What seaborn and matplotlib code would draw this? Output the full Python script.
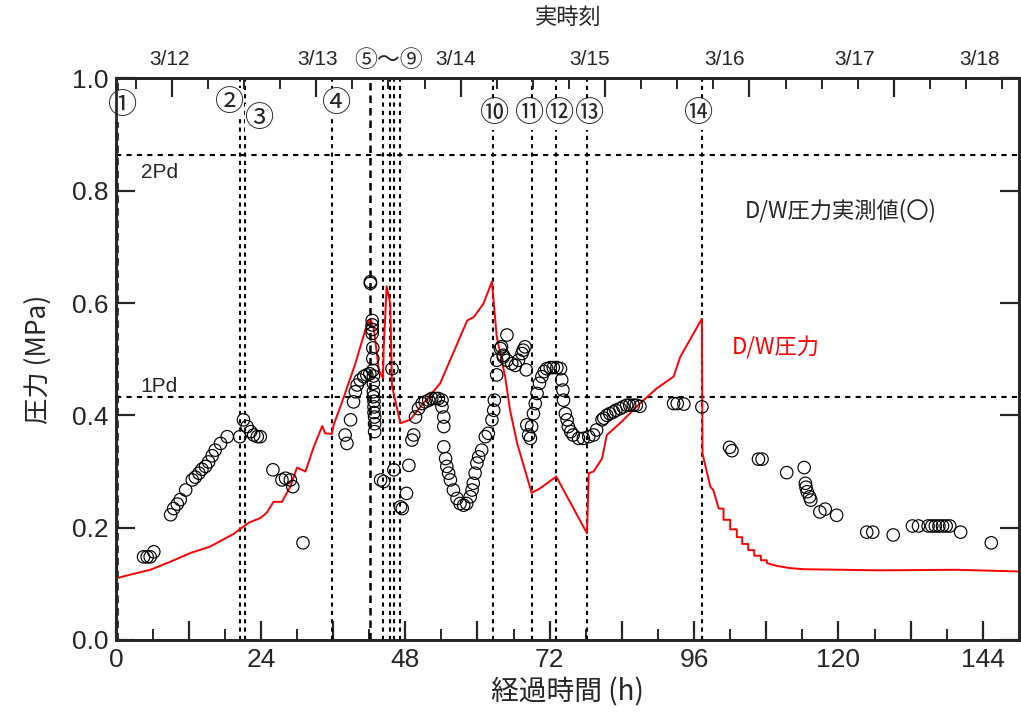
import matplotlib
matplotlib.use('Agg')
import matplotlib.pyplot as plt
import pandas as pd
import seaborn as sns
from matplotlib.ticker import FixedLocator, MultipleLocator, FuncFormatter

# calculated D/W pressure (red line)
calc_hours = [0, 2.2, 5.6, 8.9, 12.3, 15.5, 19.5, 20.6, 22.0, 23.9, 25.0, 26.1, 27.5, 28.9, 30.0,
              31.4, 32.8, 34.2, 34.7, 35.8, 36.1, 37.8, 39.7, 41.6, 42.2, 42.8, 43.6, 44.3, 44.4,
              44.9, 45.5, 45.8, 47.2, 48.8, 50.5, 53.8, 58.3, 59.4, 61.0, 62.4, 63.2, 64.6, 65.4,
              66.6, 69.0, 70.4, 73.1, 74.0, 78.2, 78.5, 79.3, 80.7, 81.5, 83.7, 87.0, 89.8, 92.6,
              93.7, 97.3, 97.4, 98.7, 99.2, 100.1, 100.9, 100.9, 102.0, 102.0, 103.1, 103.1,
              104.0, 104.0, 105.0, 105.0, 106.0, 106.0, 107.1, 107.1, 108.1, 108.1, 109.7, 111.9,
              114.2, 126.9, 139.6, 150.0]
calc_mpa = [0.110, 0.116, 0.125, 0.139, 0.155, 0.166, 0.189, 0.198, 0.209, 0.217, 0.227, 0.246,
            0.246, 0.273, 0.307, 0.300, 0.344, 0.381, 0.368, 0.367, 0.383, 0.433, 0.492, 0.561,
            0.572, 0.552, 0.481, 0.466, 0.516, 0.630, 0.599, 0.451, 0.386, 0.392, 0.415, 0.457,
            0.569, 0.575, 0.599, 0.638, 0.540, 0.469, 0.410, 0.350, 0.262, 0.270, 0.291, 0.273,
            0.190, 0.297, 0.300, 0.323, 0.365, 0.386, 0.421, 0.448, 0.469, 0.504, 0.572, 0.332,
            0.273, 0.267, 0.234, 0.234, 0.214, 0.214, 0.197, 0.197, 0.183, 0.183, 0.171, 0.171,
            0.160, 0.160, 0.150, 0.150, 0.142, 0.142, 0.137, 0.132, 0.128, 0.126, 0.124, 0.125,
            0.122]

# measured D/W pressure (circles)
meas_hours = [4.5, 5.1, 5.6, 6.2,
              9.0, 9.5, 10.1, 10.6, 11.5, 12.6, 13.1, 13.7, 14.2, 14.8, 15.3, 15.9, 16.4, 17.3,
              18.4, 20.5, 21.1, 21.7, 22.3, 22.8, 23.4, 23.9,
              26.0, 27.5, 28.1, 28.9, 29.3, 31.0,
              38.0, 38.3, 38.9, 39.4, 39.7, 40.0, 40.5, 41.1, 41.6, 42.1,
              42.2, 42.2, 42.5, 42.5, 42.5, 42.5, 42.6, 42.6, 42.6, 42.7, 42.7, 42.7, 42.7, 42.8,
              42.8, 42.8, 42.9, 42.9, 42.9,
              43.9, 44.4, 45.8, 46.1, 47.2, 47.5, 48.2, 48.6, 49.1, 49.4, 49.7, 50.2, 50.8, 51.3,
              51.9, 52.4, 53.0, 53.5, 54.1, 54.1, 54.4, 54.4, 54.4, 54.7, 54.9, 55.2, 55.5, 56.0,
              56.6, 57.1, 57.7, 58.2, 58.8, 59.1, 59.3, 59.6, 59.9, 60.2, 60.7, 61.3, 61.8, 62.4,
              62.7, 62.8, 63.2, 63.2, 63.8, 64.0, 64.3, 64.3, 64.9, 64.9, 65.7, 66.3, 66.8, 67.4,
              67.6, 67.9, 68.1,
              68.2, 68.5, 68.8, 69.0, 69.3, 69.6, 69.9, 70.3, 70.7, 71.1, 71.5, 72.1, 72.6, 73.2,
              73.8, 74.0, 74.2, 74.3, 74.6, 74.9, 75.1, 75.5, 75.9, 76.8, 77.6, 78.5, 79.3, 79.8,
              80.7, 81.0, 81.5, 82.0, 82.6, 83.0, 83.7, 84.2, 84.8, 85.3, 85.9, 86.4, 87.0, 92.6,
              93.2, 94.3, 97.3,
              101.9, 102.3, 106.7, 107.3, 111.4, 114.3, 114.5, 114.6, 114.8, 115.2, 115.4, 116.9,
              117.8, 119.7, 124.7, 125.7, 129.1, 132.3, 133.3, 134.9, 135.5, 136.1, 136.7, 137.3,
              137.9, 138.5, 140.3, 145.4]
meas_mpa = [0.148, 0.148, 0.148, 0.157,
            0.223, 0.234, 0.242, 0.250, 0.267, 0.285, 0.290, 0.297, 0.304, 0.309, 0.317, 0.328,
            0.338, 0.350, 0.362, 0.362, 0.392, 0.380, 0.371, 0.365, 0.362, 0.362,
            0.303, 0.285, 0.288, 0.285, 0.273, 0.173,
            0.365, 0.350, 0.392, 0.424, 0.442, 0.454, 0.463, 0.469, 0.472, 0.474,
            0.638, 0.635, 0.569, 0.561, 0.553, 0.546, 0.520, 0.501, 0.480, 0.470, 0.457, 0.442,
            0.433, 0.425, 0.415, 0.405, 0.397, 0.385, 0.371,
            0.285, 0.282, 0.483, 0.303, 0.237, 0.234, 0.261, 0.311, 0.356, 0.365, 0.397, 0.412,
            0.421, 0.424, 0.427, 0.430, 0.430, 0.430, 0.427, 0.415, 0.397, 0.380, 0.344, 0.323,
            0.309, 0.297, 0.285, 0.267, 0.252, 0.243, 0.240, 0.243, 0.255, 0.267, 0.279, 0.297,
            0.315, 0.326, 0.338, 0.362, 0.368, 0.392, 0.409, 0.427, 0.472, 0.498, 0.519, 0.522,
            0.507, 0.504, 0.543, 0.498, 0.492, 0.489, 0.498, 0.510, 0.516, 0.522, 0.481,
            0.383, 0.365, 0.359, 0.380, 0.403, 0.421, 0.439, 0.457, 0.469, 0.478, 0.483, 0.485,
            0.485, 0.485, 0.483, 0.463, 0.445, 0.427, 0.403, 0.392, 0.380, 0.371, 0.365, 0.359,
            0.359, 0.362, 0.365, 0.374, 0.392, 0.395, 0.400, 0.403, 0.406, 0.409, 0.412, 0.415,
            0.418, 0.418, 0.418, 0.418, 0.416, 0.421, 0.421, 0.420, 0.415,
            0.343, 0.337, 0.322, 0.322, 0.298, 0.307, 0.279, 0.272, 0.264, 0.255, 0.249, 0.228,
            0.233, 0.222, 0.192, 0.192, 0.187, 0.203, 0.203, 0.203, 0.203, 0.203, 0.203, 0.203,
            0.203, 0.203, 0.192, 0.173]

# event times (vertical lines) and labels
event_hours = [0.1, 20.6, 21.3, 35.8, 42.2, 44.3, 45.4, 46.1, 47.2, 62.6, 69.0, 73.0, 78.2, 97.4]
event_labels = ['①', '②', '③', '④', '⑤〜⑨', '⑩', '⑪', '⑫', '⑬', '⑭']
pd_levels = [0.432, 0.864]
pd_labels = ['1Pd', '2Pd']
date_labels = ['3/12', '3/13', '3/14', '3/15', '3/16', '3/17', '3/18']
midnight_hours = [9.2, 33.2, 57.2, 81.2, 105.2, 129.2]

calc_df = pd.DataFrame({'hour': calc_hours, 'mpa': calc_mpa})
meas_df = pd.DataFrame({'hour': meas_hours, 'mpa': meas_mpa})

sns.set_theme(style='ticks')
plt.rcParams['font.family'] = ['Liberation Sans', 'Noto Sans CJK JP', 'DejaVu Sans']
cjk = ['Noto Sans CJK JP', 'DejaVu Sans']

fig = plt.figure(figsize=(10.21, 7.19), dpi=100)
ax = fig.add_axes([0.1141, 0.1099, 0.8839, 0.7811])

# event lines
for i, h in enumerate(event_hours):
    if i in (0, 4):
        ax.axvline(h, color='black', lw=1.8, ls=(0, (3, 2)), zorder=1)
    else:
        ax.axvline(h, color='black', lw=1.5, ls=(0, (2, 2)), zorder=1)
for lvl in pd_levels:
    ax.axhline(lvl, color='black', lw=1.5, ls=(0, (2.5, 2.5)), zorder=1)

sns.lineplot(data=calc_df, x='hour', y='mpa', sort=False, estimator=None,
             color='red', lw=1.4, ax=ax, zorder=3)
sns.scatterplot(data=meas_df, x='hour', y='mpa', marker='o', s=80,
                facecolor='none', edgecolor='black', linewidth=0.85, ax=ax, zorder=4)

ax.set_xlim(0, 150)
ax.set_ylim(0, 1.0)

# bottom / left axes
ax.xaxis.set_major_locator(MultipleLocator(12))
ax.xaxis.set_minor_locator(MultipleLocator(6))
ax.xaxis.set_major_formatter(FuncFormatter(lambda v, p: f'{v:.0f}' if v % 24 == 0 else ''))
ax.yaxis.set_major_locator(MultipleLocator(0.2))
ax.yaxis.set_major_formatter(FuncFormatter(lambda v, p: f'{v:.1f}'))
ax.tick_params(axis='both', which='major', direction='in', length=14, width=1.6,
               labelsize=19, top=False, right=True, pad=6)
ax.tick_params(axis='x', which='minor', direction='in', length=8, width=1.4, top=False)
for s in ax.spines.values():
    s.set_linewidth(2.0)

ax.set_xlabel('経過時間 (h)', fontsize=20, family=cjk, labelpad=4)
ax.set_ylabel('圧力 (MPa)', fontsize=19, family=cjk, labelpad=14)

# top axis: real time
ax2 = ax.twiny()
ax2.set_xlim(0, 150)
ax2.xaxis.set_major_locator(FixedLocator(midnight_hours))
ax2.xaxis.set_minor_locator(FixedLocator([3.2 + 6 * k for k in range(25)]))
ax2.set_xticklabels([])
ax2.tick_params(axis='x', which='major', direction='in', length=14, width=1.6)
ax2.tick_params(axis='x', which='minor', direction='in', length=8, width=1.4)
ax2.set_xlabel('実時刻', fontsize=16, family=cjk, labelpad=36)
for s in ax2.spines.values():
    s.set_linewidth(2.0)

date_x = [8.8, 33.4, 56.3, 78.6, 101.0, 122.7, 143.4]
for d, x in zip(date_labels, date_x):
    ax.text(x, 1.033, d, fontsize=15, ha='center', va='center', clip_on=False)

label_x = [1.0, 18.8, 23.8, 36.6, 45.3, 62.8, 68.6, 73.6, 78.7, 96.8]
label_y = [0.950, 0.956, 0.927, 0.955, 1.031, 0.936, 0.936, 0.936, 0.936, 0.936]
for t, x, y in zip(event_labels, label_x, label_y):
    ax.text(x, y, t, fontsize=21 if y < 1 else 16.5, family=cjk, ha='center', va='center',
            clip_on=False, zorder=5,
            bbox=dict(facecolor='white', edgecolor='none', pad=0.3) if y < 1 else None)

ax.text(4.0, 0.833, pd_labels[1], fontsize=15, ha='left', va='center')
ax.text(4.0, 0.452, pd_labels[0], fontsize=15, ha='left', va='center')
ax.text(104.5, 0.765, 'D/W圧力実測値(〇)', fontsize=16, family=cjk, ha='left', va='center')
ax.text(102.3, 0.52, 'D/W圧力', fontsize=16, family=cjk, color='red', ha='left', va='center')

fig.savefig('out.png', dpi=100)
